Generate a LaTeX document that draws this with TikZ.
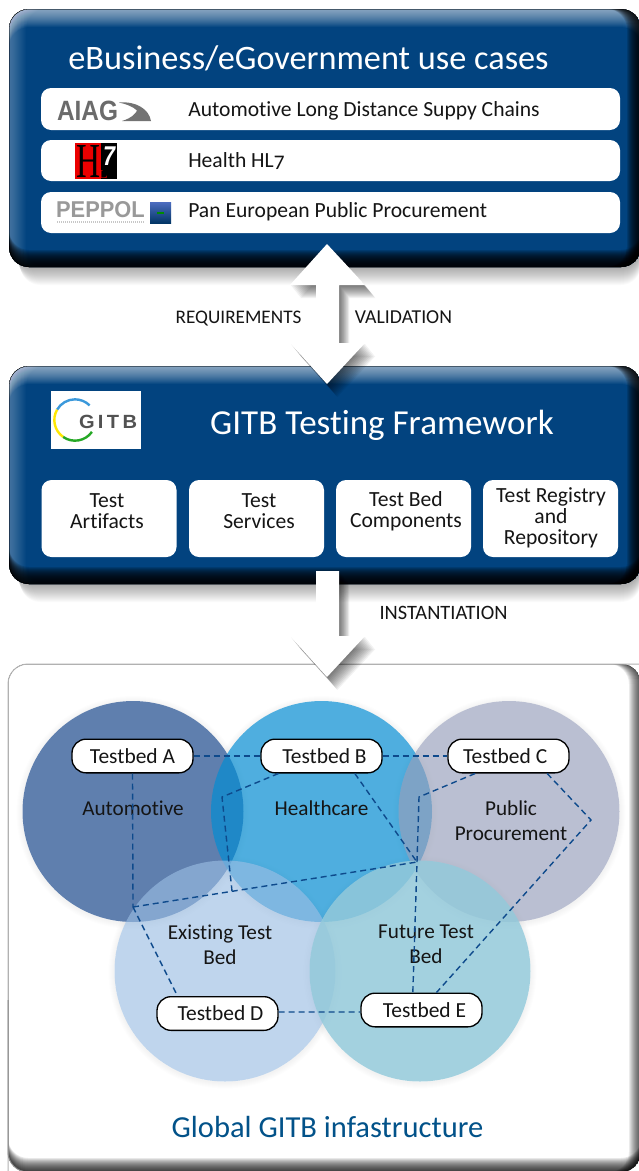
\documentclass[tikz,border=0pt]{standalone}
\usepackage{fontspec}
\usepackage{graphicx}
\setmainfont[Numbers=OldStyle,Ligatures=NoCommon]{Carlito}
\newfontfamily\logofont{Liberation Sans}
\newfontfamily\hlfont{Liberation Serif}
\usetikzlibrary{calc}
\definecolor{navy}{HTML}{02437F}
\definecolor{dashblue}{HTML}{0E4A8C}
\definecolor{inktext}{HTML}{151515}
\definecolor{autoc}{HTML}{5F7FAE}
\definecolor{healthc}{HTML}{058DD2}
\definecolor{publicc}{HTML}{969EBA}
\definecolor{existc}{HTML}{9ABDE3}
\definecolor{futurec}{HTML}{93C9DA}
\newcommand{\fs}[2]{\fontsize{#1}{#2}\selectfont}
\newcommand{\bandlayers}[9]{%
  \foreach \d in {1,...,#7}{%
    \pgfmathsetmacro\ax{#1+\d*#5}\pgfmathsetmacro\ay{#2+\d*#6}%
    \pgfmathsetmacro\bx{#3+\d*#5}\pgfmathsetmacro\by{#4+\d*#6}%
    \fill[#8,opacity=#9,even odd rule,rounded corners=15pt]
      (#1,#2) rectangle (#3,#4) (\ax,\ay) rectangle (\bx,\by);
  }}
\newcommand{\bluepanel}[4]{%
  \foreach \d in {1,...,18}{%
    \pgfmathsetmacro\by{#4+\d}\pgfmathsetmacro\ax{#1+4+\d*0.4}%
    \fill[black,opacity=.021,rounded corners=15pt] (\ax,#2+10) rectangle (#3,\by);
  }
  \fill[navy,rounded corners=15pt] (#1,#2) rectangle (#3,#4);
  \begin{scope}
    \clip[rounded corners=15pt] (#1,#2) rectangle (#3,#4);
    \bandlayers{#1}{#2}{#3}{#4}{0}{1}{18}{white}{.042}
    \bandlayers{#1}{#2}{#3}{#4}{1}{0}{17}{white}{.018}
    \bandlayers{#1}{#2}{#3}{#4}{0}{-1}{17}{black}{.13}
    \bandlayers{#1}{#2}{#3}{#4}{-1}{0}{14}{black}{.13}
  \end{scope}}
\newcommand{\softcircle}[3]{%
  \foreach \d in {1,...,6}{%
    \pgfmathsetmacro\rr{#3+\d}%
    \fill[black,opacity=.008,even odd rule] (#1,#2) circle [radius=#3*.75pt] (#1,#2+1) circle [radius=\rr*.75pt];
  }}
\tikzset{
  rowbox/.style={fill=white,rounded corners=7.5pt,minimum width=434.25pt,inner sep=0pt},
  rowlabel/.style={anchor=west,inner sep=0pt,text=inktext,font=\fs{16.2}{18}},
  fwbox/.style={fill=white,rounded corners=7.5pt,minimum width=101.25pt,minimum height=57.75pt,inner sep=0pt},
  fwlabel/.style={align=center,inner sep=0pt,text=inktext,font=\fs{16.2}{15.75}},
  flowlabel/.style={inner sep=0pt,text=inktext,font=\fs{14.8}{15}},
  title/.style={inner sep=0pt,text=white,font=\fs{25.7}{28}},
  venn/.style={circle,minimum size=165.75pt,inner sep=0pt},
  venntext/.style={align=center,inner sep=0pt,text=inktext,font=\fs{15.9}{18.75}},
  pill/.style={draw=black,line width=1pt,fill=white,rounded corners=10.5pt,minimum width=90.75pt,minimum height=25.25pt,inner sep=0pt,text=inktext,font=\fs{16.1}{18}},
  link/.style={draw=dashblue,line width=1.05pt,dash pattern=on 4.5pt off 3pt}
}
\begin{document}
\begin{tikzpicture}[x=0.75pt,y=-0.75pt]
\useasboundingbox (0,0) rectangle (639,1171);
\fill[white] (0,0) rectangle (639,1171);

% bottom panel
\fill[white,rounded corners=15pt] (8,664) rectangle (641,1172);
\begin{scope}
  \clip[rounded corners=15pt] (8,664) rectangle (641,1172);
  \bandlayers{8}{664}{641}{1172}{0}{-1}{14}{black}{.09}
  \bandlayers{8}{664}{641}{1172}{-1}{0}{12}{black}{.08}
\end{scope}
\draw[black!30,line width=.75pt,rounded corners=15pt] (8,1172) -- (8,664) -- (641,664);
\draw[black!45,line width=.75pt,rounded corners=15pt] (8,1000) -- (8,1172) -- (40,1172);

% top panels
\bluepanel{9}{9}{641}{267}
\bluepanel{9}{366}{641}{584}

% row boxes
\node[rowbox,minimum height=31.5pt] (row1) at (330.5,109) {};
\node[rowbox,minimum height=30.75pt] (row2) at (330.5,160.5) {};
\node[rowbox,minimum height=30.75pt] (row3) at (330.5,212.5) {};
\node[title] (tuse) at (308.5,58) {eBusiness/eGovernment use cases};
\node[rowlabel] (l1) at (188,110.5) {Automotive Long Distance Suppy Chains};
\node[rowlabel] (l2) at (188,161) {Health HL7};
\node[rowlabel] (l3) at (188,211.5) {Pan European Public Procurement};

% AIAG logo
\node[inner sep=0pt,text=black!58] (aiag) at (87.5,111) {\resizebox{45.75pt}{14.6pt}{\logofont\bfseries AIAG}};
\fill[black!55] (119,102.5) .. controls (136,101) and (149,109) .. (151,121) -- (122,121) .. controls (132,118) and (136,113) .. (137,110.5) .. controls (133,106.5) and (126,104) .. (119,102.5) -- cycle;
% HL7 logo
\fill[red!92!black] (75,143) rectangle (101,179);
\fill[black] (101,143) rectangle (117,179);
\node[inner sep=0pt,text=black] (hlh) at (88,161) {\resizebox{18pt}{24pt}{\hlfont H}};
\node[inner sep=0pt,text=red] (hll) at (103,174.5) {\resizebox{7pt}{6pt}{\hlfont L}};
\node[inner sep=0pt,text=white] (hl7) at (109,156) {\resizebox{9pt}{14pt}{\logofont\bfseries\itshape 7}};
% PEPPOL logo
\node[inner sep=0pt,text=black!40] (peppol) at (100.5,210) {\resizebox{66.5pt}{12pt}{\logofont\bfseries PEPPOL}};
\draw[black!22,line width=1.4pt,dash pattern=on 1pt off .5pt] (57,222) -- (145,222);
\shade[top color=blue!30!navy!70,bottom color=navy!80!black] (150,202) rectangle (171,223);
\draw[green!55!black,line width=1pt] (157,213) -- (164,213);

% framework
\fill[white] (51,391) rectangle (141,449);
\draw[cyan!70!blue!80,line width=1.8pt] ($(75,420)+(150:15.5pt)$) arc[start angle=150,end angle=45,radius=15.5pt];
\draw[yellow!90!orange,line width=1.8pt] ($(75,420)+(150:15.5pt)$) arc[start angle=150,end angle=235,radius=15.5pt];
\draw[green!60!black!85,line width=1.8pt] ($(75,420)+(235:15.5pt)$) arc[start angle=235,end angle=325,radius=15.5pt];
\node[inner sep=0pt,text=black!68] (gitb) at (108,421.5) {\resizebox{43.5pt}{10pt}{\logofont\bfseries G\,I\,T\,B}};
\node[title,font=\fs{26.3}{28}] (tgitb) at (382,425) {GITB Testing Framework};
\node[fwbox] (f1) at (109,518.5) {};
\node[fwbox] (f2) at (256.5,518.5) {};
\node[fwbox] (f3) at (403.5,518.5) {};
\node[fwbox] (f4) at (550.5,518.5) {};
\node[fwlabel] (f1t) at (107,511.5) {Test\\Artifacts};
\node[fwlabel] (f2t) at (259,511.5) {Test\\Services};
\node[fwlabel] (f3t) at (406,511.5) {Test Bed\\Components};
\node[fwlabel] (f4t) at (551,518) {Test Registry\\and\\Repository};

% arrows
\foreach \d in {1,...,13}{%
  \pgfmathsetmacro\s{\d*0.8}\pgfmathsetmacro\t{\d*1.0}%
  \fill[black,opacity=.05,shift={(\s,\t)}] (327,244) -- (365,285) -- (339,285) -- (339,343) -- (365,343) -- (327,384) -- (290,343) -- (316,343) -- (316,285) -- (290,285) -- cycle;
  \fill[black,opacity=.05,shift={(\s,\t)}] (316,571) -- (339,571) -- (339,636) -- (365,636) -- (327,677) -- (290,636) -- (316,636) -- cycle;
}
\fill[white] (327,244) -- (365,285) -- (339,285) -- (339,343) -- (365,343) -- (327,384) -- (290,343) -- (316,343) -- (316,285) -- (290,285) -- cycle;
\fill[white] (316,571) -- (339,571) -- (339,636) -- (365,636) -- (327,677) -- (290,636) -- (316,636) -- cycle;
\node[flowlabel,font=\fs{14.4}{15}] (req) at (238.5,318.5) {REQUIREMENTS};
\node[flowlabel] (val) at (403.5,317) {VALIDATION};
\node[flowlabel,font=\fs{15.3}{15}] (ins) at (443.5,613) {INSTANTIATION};

% venn
\softcircle{133}{811.5}{110.5}
\softcircle{321.5}{811.5}{110.5}
\softcircle{509}{811.5}{110.5}
\softcircle{225}{971}{110.5}
\softcircle{420}{971}{110.5}
\node[venn,fill=autoc] (auto) at (133,811.5) {};
\node[venn,fill=healthc,fill opacity=.7] (health) at (321.5,811.5) {};
\node[venn,fill=publicc,fill opacity=.65] (public) at (509,811.5) {};
\node[venn,fill=existc,fill opacity=.63] (exist) at (225,971) {};
\node[venn,fill=futurec,fill opacity=.85] (future) at (420,971) {};

\node[venntext] (tauto) at (133,808) {Automotive};
\node[venntext] (thealth) at (321.5,808) {Healthcare};
\node[venntext] (tpublic) at (511,820.5) {Public\\Procurement};
\node[venntext] (texist) at (220,944.5) {Existing Test\\Bed};
\node[venntext] (tfuture) at (426,944.5) {Future Test\\Bed};

\coordinate (J1) at (133,907);
\coordinate (J2) at (417,862);
\coordinate (J3) at (232,891);
\coordinate (K1) at (222,797);
\coordinate (K2) at (419,797);
\coordinate (K3) at (591,820);

\node[pill] (A) at (132.5,756) {Testbed A};
\node[pill] (B) at (321.5,756) {\kern4.5pt Testbed B};
\node[pill] (C) at (508.5,756) {Testbed C\kern5pt};
\node[pill] (D) at (217.5,1013.5) {\kern4.5pt Testbed D};
\node[pill] (E) at (421.5,1010) {\kern4.5pt Testbed E};

\draw[link] (A.east) -- (B.west);
\draw[link] (B.east) -- (C.west);
\draw[link] ([yshift=1.1pt]D.east) -- ([yshift=-1.5pt]E.west);
\draw[link] (A.south) -- (J1);
\draw[link] (J1) -- (J2);
\draw[link] (J1) -- ([xshift=-30pt]D.north);
\draw[link] ([xshift=-32.25pt]B.south) -- (K1) -- (J3);
\draw[link] ([xshift=25pt]B.south) -- (J2);
\draw[link] ([xshift=-25pt]C.south) -- (K2) -- (J2) -- ([xshift=-6.5pt]E.north);
\draw[link] ([xshift=29pt]C.south) -- (K3) -- ([xshift=11.25pt]E.north);

\node[inner sep=0pt,text=navy!92!cyan,font=\fs{22.9}{26}] (tglobal) at (327.5,1127) {Global GITB infastructure};
\end{tikzpicture}
\end{document}
